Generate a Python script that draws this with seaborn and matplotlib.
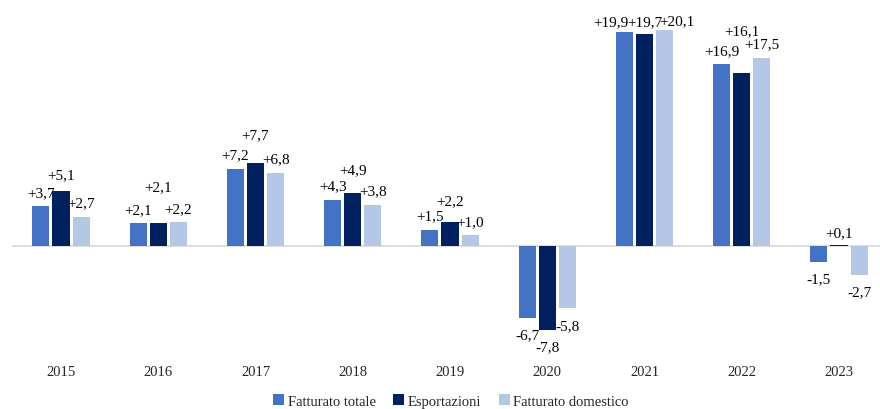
import matplotlib
matplotlib.use("Agg")
import matplotlib.pyplot as plt
import seaborn as sns
import pandas as pd

years = ["2015", "2016", "2017", "2018", "2019", "2020", "2021", "2022", "2023"]
series = ["Fatturato totale", "Esportazioni", "Fatturato domestico"]
fatturato_totale = [3.7, 2.1, 7.2, 4.3, 1.5, -6.7, 19.9, 16.9, -1.5]
esportazioni = [5.1, 2.1, 7.7, 4.9, 2.2, -7.8, 19.7, 16.1, 0.1]
fatturato_domestico = [2.7, 2.2, 6.8, 3.8, 1.0, -5.8, 20.1, 17.5, -2.7]
colors = ["#4472C4", "#002060", "#B4C7E7"]

# label placement tweaks (pixels), per series and year, to avoid overlaps
label_lift = {
    "Fatturato totale":    [0, 0, 0, 0, 0, 0, -4, 0, 0],
    "Esportazioni":        [2, 23, 15, 10, 8, 0, -1, 28, -2],
    "Fatturato domestico": [0, 0, 0, 0, 0, 0, -5, 0, 0],
}
label_shift = {
    "Fatturato totale":    [0, 0, 0, 0, 0, 0, -14, 0, 0],
    "Esportazioni":        [0, 0, 0, 0, 0, 0, 0, 0, 0],
    "Fatturato domestico": [0, 0, 0, 0, 0, 0, 12, 0, 0],
}

values = {"Fatturato totale": fatturato_totale,
          "Esportazioni": esportazioni,
          "Fatturato domestico": fatturato_domestico}
df = pd.DataFrame([{"Anno": y, "Serie": s, "Valore": values[s][i]}
                   for s in series for i, y in enumerate(years)])

sns.set_theme(style="white")
plt.rcParams["font.family"] = ["Liberation Serif", "DejaVu Serif"]

fig = plt.figure(figsize=(8.8, 4.1), dpi=100)
ax = fig.add_axes([12.4 / 880, 55 / 410, 875.25 / 880, 345 / 410])

sns.barplot(data=df, x="Anno", y="Valore", hue="Serie", order=years,
            hue_order=series, palette=colors, width=0.62, gap=0.15,
            saturation=1, ax=ax, legend=True, edgecolor="none")

ax.set_xlim(-0.5, 8.5)
ax.set_ylim(-10.05, 22.05)
ax.axhline(0, color="#D9D9D9", lw=1.2, zorder=0.5)

px = 0.72  # points per pixel at 100 dpi
for s, cont in zip(series, ax.containers):
    for i, bar in enumerate(cont):
        v = values[s][i]
        xc = bar.get_x() + bar.get_width() / 2
        txt = ("+" if v >= 0 else "") + f"{v:.1f}".replace(".", ",")
        dx = label_shift[s][i] * px
        if v >= 0:
            dy = (14 + label_lift[s][i]) * px
        else:
            dy = -17 * px
        ax.annotate(txt, (xc, v), xytext=(dx, dy), textcoords="offset points",
                    ha="center", va="center", fontsize=11, color="#000000")

for sp in ax.spines.values():
    sp.set_visible(False)
ax.set_yticks([])
ax.set_xlabel("")
ax.set_ylabel("")
ax.tick_params(axis="x", length=0, pad=8, labelsize=10.5)

handles, labels = ax.get_legend_handles_labels()
ax.legend_.remove()
fig.legend(handles, labels, loc="center", bbox_to_anchor=(451 / 880, 1 - 402 / 410),
           ncol=3, frameon=False, fontsize=10.5, handlelength=0.75, handleheight=0.75,
           handletextpad=0.25, columnspacing=1.2, borderaxespad=0)

fig.savefig("out.png", dpi=100)
